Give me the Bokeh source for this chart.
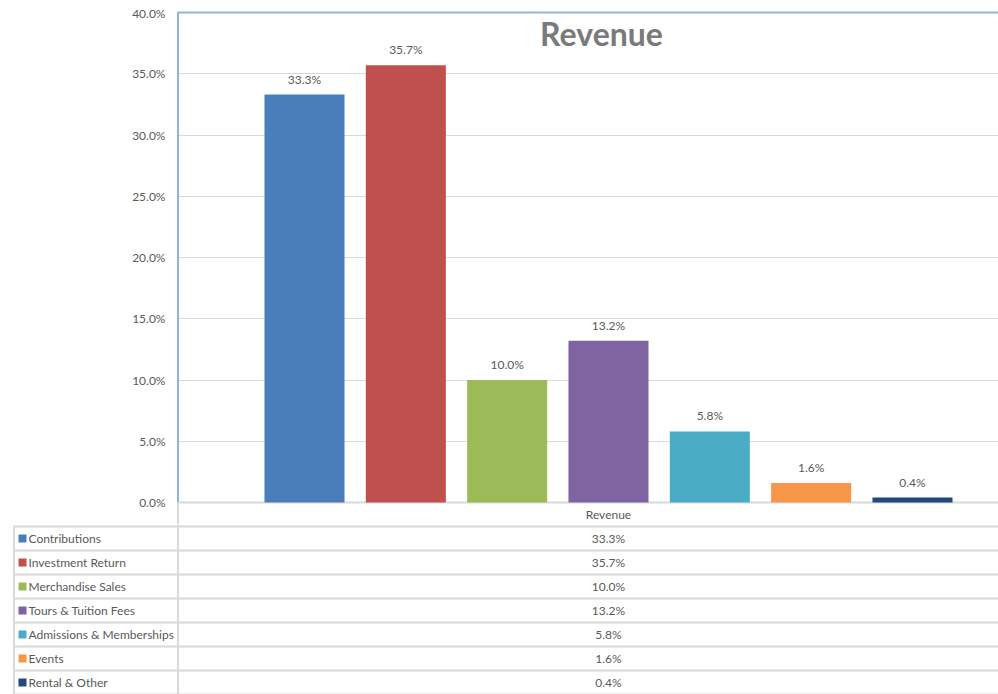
from bokeh.plotting import figure
from bokeh.models import ColumnDataSource, Range1d, FixedTicker, PrintfTickFormatter, Label
from bokeh.layouts import column, row
from bokeh.core.properties import value
from bokeh.embed import file_html
from bokeh.resources import INLINE

# ---- data ----
categories = ["Contributions", "Investment Return", "Merchandise Sales",
              "Tours & Tuition Fees", "Admissions & Memberships", "Events", "Rental & Other"]
revenue_pct = [33.3, 35.7, 10.0, 13.2, 5.8, 1.6, 0.4]
colors = ["#4A7EBB", "#C0504D", "#9BBB59", "#8064A2", "#4BACC6", "#F79646", "#23497A"]
group_label = "Revenue"
title_text = "Revenue"
y_ticks = [0, 5, 10, 15, 20, 25, 30, 35, 40]

# ---- layout constants (pixels) ----
FONT = "Lato"
TXT = "#595959"
GRID = "#d9d9d9"
BORDER = "#95B3D7"
W = 998
U = 101.33          # px per bar slot
S = 12.25           # px per percentage point
FL = 176            # frame left
BAR0 = 304          # centre of first bar in px
x_start = -(BAR0 - FL) / U
x_end = x_start + (W - FL) / U
axis_x = x_start + 1.5 / U
TOP_H = 5           # strip holding the outer chart-area border line
CH_TOP = TOP_H      # canvas top of chart figure (px)
y_end = 40 + (12 - 10) / S
y_start = -22 / S
CH_H = 524 - TOP_H

# ---- outer border strip ----
top = figure(width=W, height=TOP_H, output_backend="svg", toolbar_location=None,
             x_range=Range1d(0, W), y_range=Range1d(TOP_H, 0), min_border=0,
             x_axis_location=None, y_axis_location=None)
top.outline_line_color = None
top.grid.visible = False
top.segment(x0=[9], y0=[4], x1=[W], y1=[4], line_color="#e4e4e4", line_width=1.5)

idx = list(range(len(categories)))
center = sum(idx) / len(idx)
src = ColumnDataSource(dict(x=idx, top=revenue_pct, color=colors, cat=categories,
                            lab=[f"{v:.1f}%" for v in revenue_pct]))

p = figure(width=W, height=CH_H, output_backend="svg", toolbar_location=None,
           x_range=Range1d(x_start, x_end), y_range=Range1d(y_start, y_end),
           min_border_left=FL, min_border_right=0, min_border_top=10 - TOP_H, min_border_bottom=0,
           x_axis_location=None)
p.outline_line_color = None
p.xgrid.visible = False
p.ygrid.ticker = FixedTicker(ticks=y_ticks)
p.ygrid.grid_line_color = GRID
p.yaxis.ticker = FixedTicker(ticks=y_ticks)
p.yaxis.formatter = PrintfTickFormatter(format="%.1f%%")
p.yaxis.axis_line_color = None
p.yaxis.major_tick_line_color = None
p.yaxis.minor_tick_line_color = None
p.yaxis.major_tick_out = 0
p.yaxis.major_tick_in = 0
p.yaxis.minor_tick_out = 0
p.yaxis.major_label_text_font = FONT
p.yaxis.major_label_text_font_size = "12px"
p.yaxis.major_label_text_color = TXT
p.yaxis.major_label_standoff = 11

# borders / axis lines
p.segment(x0=[axis_x], y0=[40], x1=[x_end], y1=[40], line_color=BORDER, line_width=2)
p.segment(x0=[axis_x], y0=[0], x1=[axis_x], y1=[40], line_color=BORDER, line_width=2)
p.segment(x0=[axis_x], y0=[y_start], x1=[axis_x], y1=[0], line_color=GRID, line_width=2)
p.segment(x0=[axis_x], y0=[0], x1=[x_end], y1=[0], line_color=GRID, line_width=2)

p.vbar(x="x", top="top", bottom=0, width=0.79, color="color", line_color=None, source=src)
p.text(x="x", y="top", text="lab", source=src, text_align="center", text_baseline="bottom",
       y_offset=-8, text_font=value(FONT), text_font_size="12px", text_color=TXT)
p.text(x=[center], y=[-12 / S], text=[group_label], text_align="center", text_baseline="middle",
       text_font=value(FONT), text_font_size="12px", text_color=TXT)

p.add_layout(Label(x=x_start + (601 - FL) / U, y=40 - 21 / S, text=title_text,
                   text_align="center", text_baseline="middle", text_font=FONT,
                   text_font_size="32px", text_font_style="bold", text_color="#7a7a7a"))

# ---- data table ----
TB_H = 694 - 524
ROW = 24
n = len(categories)
t = figure(width=W, height=TB_H, output_backend="svg", toolbar_location=None,
           x_range=Range1d(0, W), y_range=Range1d(n, -(526 - 524) / ROW),
           min_border=0, x_axis_location=None, y_axis_location=None)
t.outline_line_color = None
t.grid.visible = False
val_x = FL + (center - x_start) * U
rows = [r + 0.5 for r in range(n)]
tsrc = ColumnDataSource(dict(y=rows, cat=categories, color=colors,
                             lab=[f"{v:.1f}%" for v in revenue_pct]))
bounds = list(range(n + 1))
t.segment(x0=[13] * len(bounds), y0=bounds, x1=[W] * len(bounds), y1=bounds,
          line_color=GRID, line_width=2)
t.segment(x0=[177.5], y0=[-(526 - 524) / ROW], x1=[177.5], y1=[n], line_color=GRID, line_width=2)
t.segment(x0=[13.5], y0=[0], x1=[13.5], y1=[n], line_color=GRID, line_width=2)
t.scatter(x=22, y="y", marker="square", size=8, color="color", line_color=None, source=tsrc)
t.text(x=28, y="y", text="cat", source=tsrc, text_align="left", text_baseline="middle",
       text_font=value(FONT), text_font_size="12px", text_color=TXT)
t.text(x=val_x, y="y", text="lab", source=tsrc, text_align="center", text_baseline="middle",
       text_font=value(FONT), text_font_size="12px", text_color=TXT)

layout = column(row(top, spacing=0), row(p, spacing=0), row(t, spacing=0), spacing=0)
open("out.html", "w").write(file_html(layout, INLINE))
